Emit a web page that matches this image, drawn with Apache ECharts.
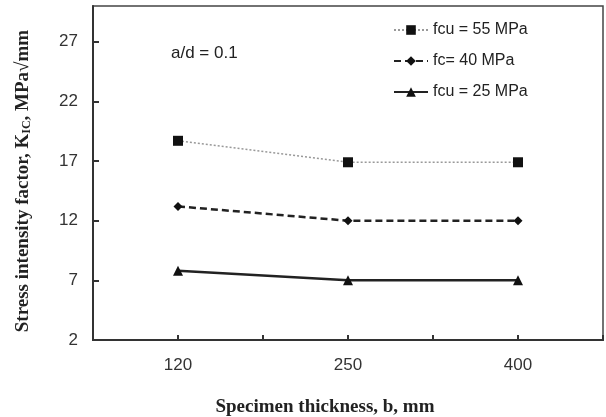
<!DOCTYPE html>
<html>
<head>
<meta charset="utf-8">
<script src="https://cdn.jsdelivr.net/npm/echarts@6/dist/echarts.min.js"></script>
<style>
  html, body { margin: 0; padding: 0; background: #fff; }
  #chart { width: 606px; height: 417px; }
</style>
</head>
<body>
<div id="chart"></div>
<script>
const categories = ['120', '250', '400'];
const seriesNames = ['fcu = 55 MPa', 'fc= 40 MPa', 'fcu = 25 MPa'];
const fcu55 = [18.7, 16.9, 16.9];
const fc40 = [13.2, 12.0, 12.0];
const fcu25 = [7.8, 7.0, 7.0];
const yTicks = [2, 7, 12, 17, 22, 27];

const chart = echarts.init(document.getElementById('chart'));
const labelFont = 'Liberation Sans';
const serifFont = 'Liberation Serif';
function lineStyle() { return { color: '#333', width: 2 }; }
function tickStyle(extra) {
  return Object.assign({ show: true, inside: true, length: 5, lineStyle: { color: '#333', width: 2 } }, extra || {});
}

chart.setOption({
  animation: false,
  backgroundColor: '#fff',
  grid: {
    left: 93, right: 3, top: 6, bottom: 77,
    outerBoundsMode: 'none', containLabel: false,
    show: true, borderColor: '#444', borderWidth: 1.5, backgroundColor: 'transparent'
  },
  legend: {
    orient: 'vertical',
    left: 388, top: 17,
    itemGap: 15,
    itemWidth: 34, itemHeight: 12,
    textStyle: { fontFamily: labelFont, fontSize: 16, color: '#222' },
    data: seriesNames
  },
  graphic: [{
    type: 'text', left: 171, top: 45,
    style: { text: 'a/d = 0.1', font: '17px "Liberation Sans"', fill: '#222' }
  }],
  xAxis: [{
    type: 'category',
    data: categories,
    boundaryGap: true,
    name: 'Specimen thickness, b, mm',
    nameLocation: 'middle',
    nameGap: 58,
    nameTextStyle: { fontFamily: serifFont, fontWeight: 'bold', fontSize: 19, color: '#222', padding: [0, 46, 0, 0] },
    axisLine: { show: true, lineStyle: lineStyle() },
    axisTick: tickStyle(),
    axisLabel: { fontFamily: labelFont, fontSize: 17, color: '#333', margin: 17 },
    splitLine: { show: false }
  }, {
    type: 'category',
    data: categories,
    position: 'bottom',
    boundaryGap: true,
    axisLine: { show: true, lineStyle: lineStyle() },
    axisTick: tickStyle({ alignWithLabel: true }),
    axisLabel: { show: false },
    splitLine: { show: false }
  }],
  yAxis: [{
    type: 'value',
    min: 2, max: 30,
    position: 'left',
    offset: 0,
    name: 'Stress intensity factor, K{sub|IC}, MPa√mm',
    nameLocation: 'middle',
    nameGap: 60,
    nameTextStyle: {
      fontFamily: serifFont, fontWeight: 'bold', fontSize: 19, color: '#222', padding: [0, 16, 0, 0],
      rich: { sub: { fontFamily: serifFont, fontWeight: 'bold', fontSize: 12, color: '#222', padding: [7, 0, 0, 0] } }
    },
    axisLine: { show: true, lineStyle: lineStyle() },
    axisTick: tickStyle({ customValues: yTicks, length: 6 }),
    axisLabel: { fontFamily: labelFont, fontSize: 17, color: '#333', margin: 15, customValues: yTicks },
    splitLine: { show: false }
  }],
  series: [{
    name: seriesNames[0], type: 'line', data: fcu55,
    symbol: 'rect', symbolSize: 10,
    itemStyle: { color: '#111' },
    lineStyle: { color: '#999', width: 1.5, type: [2, 2] }
  }, {
    name: seriesNames[1], type: 'line', data: fc40,
    symbol: 'diamond', symbolSize: 9,
    itemStyle: { color: '#111' },
    lineStyle: { color: '#222', width: 2.5, type: [7, 4] }
  }, {
    name: seriesNames[2], type: 'line', data: fcu25,
    symbol: 'triangle', symbolSize: 10,
    itemStyle: { color: '#111' },
    lineStyle: { color: '#222', width: 2.5, type: 'solid' }
  }]
});
</script>
</body>
</html>
